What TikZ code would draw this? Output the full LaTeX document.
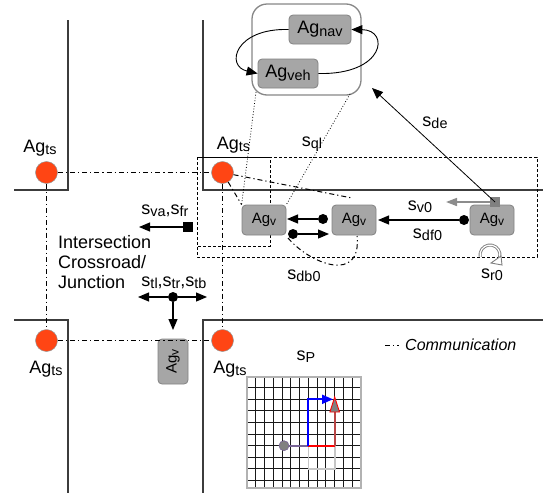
\documentclass[tikz,border=0pt]{standalone}
\usepackage{fontspec}
\setmainfont{Liberation Sans}
\usetikzlibrary{arrows.meta}
\definecolor{lampred}{RGB}{255,69,20}
\definecolor{agfill}{RGB}{166,166,166}
\definecolor{agborder}{RGB}{130,130,130}
\definecolor{roadcol}{RGB}{60,60,60}
\definecolor{framecol}{RGB}{135,135,135}
\definecolor{pathpurple}{RGB}{120,100,150}
\definecolor{arrowgray}{RGB}{140,140,140}
% lowered, slightly reduced index text
\newcommand\lo[1]{\raisebox{-0.13em}{\scalebox{0.8}{#1}}}
\begin{document}
\begin{tikzpicture}[x=1pt,y=-1pt,
  road/.style={draw=roadcol, line width=1.8pt},
  comm/.style={line width=1pt, dash pattern=on 5pt off 3pt on 1.2pt off 3pt},
  link/.style={line width=0.8pt, dotted},
  zone/.style={line width=1pt, dash pattern=on 3pt off 2pt},
  agent/.style={rounded corners=4pt, fill=agfill, draw=agborder, line width=0.8pt,
    minimum width=44pt, minimum height=30pt, inner sep=0pt, font=\fontsize{15}{18}\selectfont},
  lamp/.style={circle, fill=lampred, draw=gray!80, line width=0.5pt, minimum size=22pt, inner sep=0pt},
  lbl/.style={font=\fontsize{18}{21}\selectfont, inner sep=0pt, anchor=base},
  tip/.style={-{Triangle[length=11pt,width=9pt]}},
  arr/.style={line width=1.2pt, tip},
  knob/.style={circle, fill=black, inner sep=0pt, minimum size=10pt},
  gridline/.style={line width=1.1pt, black!90},
]
\useasboundingbox (0,0) rectangle (543,493);

% road edges of the four corners
\draw[road] (68,20) -- (68,190) -- (14,190);
\draw[road] (203,20) -- (203,190) -- (543,190);
\draw[road] (14,320) -- (68,320) -- (68,493);
\draw[road] (543,320) -- (203,320) -- (203,493);

% perception zones
\draw[zone] (197,157) rectangle (537,257);
\draw[zone] (197,157) rectangle (270,246);
\draw[line width=1pt] (197,157) -- (270,157);

% traffic-light agents
\node[lamp] (tl) at (46.5,172.5) {};
\node[lamp] (tr) at (222.5,172.5) {};
\node[lamp] (bl) at (46.5,340.5) {};
\node[lamp] (br) at (222.5,340.5) {};
\node[lbl] (tlname) at (40,152) {Ag\lo{ts}};
\node[lbl] (trname) at (233.5,149.5) {Ag\lo{ts}};
\node[lbl] (blname) at (46,373) {Ag\lo{ts}};
\node[lbl] (brname) at (230,373) {Ag\lo{ts}};

% vehicle agents
\node[agent] (v1) at (264,220) {Ag\lo{v}};
\node[agent] (v2) at (354,220) {Ag\lo{v}};
\node[agent] (v3) at (492,220) {Ag\lo{v}};
\node[agent, minimum width=30pt, minimum height=45pt] (v4) at (173,361.5) {};
\node[font=\fontsize{15}{18}\selectfont, rotate=90, inner sep=0pt] (v4name) at (v4) {Ag\lo{v}};

% internal structure of a vehicle agent
\draw[framecol, line width=1.3pt, rounded corners=15pt, fill=white] (252,4) rectangle (361,95);
\node[agent, minimum width=62pt, minimum height=29pt, font=\fontsize{18}{21}\selectfont] (nav) at (320,29.5) {Ag\lo{nav}};
\node[agent, minimum width=60pt, minimum height=29pt, font=\fontsize{18}{21}\selectfont] (veh) at (288,73.5) {Ag\lo{veh}};
\draw[line width=0.9pt, tip] (nav.west) .. controls (235,28) and (225,66) .. (veh.west);
\draw[line width=0.9pt, tip] (veh.east) .. controls (385,75) and (390,30) .. (nav.east);

% links from the structure box to the vehicle
\coordinate (boxbl) at (256,92);
\coordinate (boxbr) at (350,94);
\draw[link] (boxbl) -- (v1.north west);
\draw[link] (boxbr) -- (v1.north east);
\node[lbl] (ql) at (312,146.5) {s\lo{ql}};

% communication links
\draw[comm] (tl) -- (tr);
\draw[comm] (tl) -- (bl);
\draw[comm] (bl) -- (br);
\draw[comm] (tr) -- (br);
\draw[comm] (tr) -- (v1.north west);
\coordinate (commend) at (352,198);
\draw[comm] (tr) -- (commend);
\coordinate (dbstart) at (288,238);
\coordinate (dbend) at (357,236);
\draw[comm] (dbstart) .. controls (310,264) and (362,284) .. (dbend);
\node[lbl] (db) at (304,279) {s\lo{db0}};

% interactions between vehicles
\node[knob] (k1) at (323,219) {};
\coordinate (k1end) at (287,219);
\draw[arr] (k1) -- (k1end);
\node[knob] (k2) at (293,234) {};
\coordinate (k2end) at (329,234);
\draw[arr] (k2) -- (k2end);

\node[knob] (k3) at (464,220) {};
\coordinate (k3end) at (378,220);
\draw[arr] (k3) -- (k3end);
\node[lbl] (df) at (427.5,238) {s\lo{df0}};

\node[fill=gray, minimum size=10pt, inner sep=0pt] (sq) at (495,202) {};
\coordinate (v0end) at (446,202);
\draw[arrowgray, line width=1.6pt, -{Triangle[length=11pt,width=8pt]}] (sq) -- (v0end);
\node[lbl] (v0) at (420,210) {s\lo{v0}};

\coordinate (deend) at (372,88);
\draw[line width=0.8pt, tip] (sq.center) -- (deend);
\node[lbl] (de) at (435,126.5) {s\lo{de}};

% rotation symbol
\draw[gray, line width=3pt] (490,255) ++(170:10) arc (170:400:10);
\draw[white, line width=1.2pt] (490,255) ++(170:10) arc (170:400:10);
\draw[gray, line width=0.9pt, fill=white] (491,263) -- (502,265) -- (501,256) -- cycle;
\node[lbl] (r0) at (492,278) {s\lo{r0}};

% intersection signals
\node[fill=black, minimum size=10pt, inner sep=0pt] (sq2) at (188,227) {};
\coordinate (vaend) at (139,227);
\draw[arr] (sq2) -- (vaend);
\node[lbl] (va) at (165,214) {s\lo{va},s\lo{fr}};

\node[knob] (k4) at (173,297) {};
\coordinate (tlend) at (138,297);
\coordinate (trend) at (207,297);
\coordinate (tbend) at (173,330);
\draw[arr] (k4) -- (tlend);
\draw[arr] (k4) -- (trend);
\draw[arr] (k4) -- (tbend);
\node[lbl] (tlr) at (174,286) {s\lo{tl},s\lo{tr},s\lo{tb}};

% area caption, one node per line
\node[lbl, anchor=base west] (cap1) at (58,248) {Intersection};
\node[lbl, anchor=base west] (cap2) at (58,268) {Crossroad/};
\node[lbl, anchor=base west] (cap3) at (58,288) {Junction};

% legend
\coordinate (lega) at (385,345);
\coordinate (legb) at (399,345);
\draw[comm] (lega) -- (legb);
\node[lbl, anchor=west, font=\fontsize{16}{19}\selectfont\itshape] (legend) at (405,345) {Communication};

% planning grid
\node[lbl] (sp) at (306,360) {s\lo{P}};
\foreach \i in {1,...,12}
  \draw[gridline] ({247+\i*8.77},377) -- ({247+\i*8.77},488);
\foreach \y in {387.3,399.3,410.9,422.5,434.1,445.7,457.3,468.9,480.5}
  \draw[gridline] (247,\y) -- (361,\y);
\draw[gray!60, line width=1.3pt] (247,377) rectangle (361,488);

\draw[gray!45, line width=1.8pt] (308.4,445.7) -- (308.4,468.9) -- (334.7,468.9) -- (334.7,445.7);
\draw[pathpurple, line width=2pt] (284,445.7) -- (308.4,445.7);
\draw[red, line width=2.2pt] (308.4,445.7) -- (334.7,445.7);
\draw[blue, line width=2pt, -{Triangle[length=11pt,width=9pt]}] (308.4,445.7) -- (308.4,399.3) -- (333,399.3);
\draw[red!45!gray, line width=1.8pt] (334.7,445.7) -- (334.7,410);
\draw[red, fill=gray, line width=0.9pt] (334.7,397) -- (339.5,412) -- (329.9,412) -- cycle;
\node[circle, fill=gray, draw=pathpurple, line width=0.6pt, minimum size=10pt, inner sep=0pt] (start) at (284,445.7) {};
\end{tikzpicture}
\end{document}
